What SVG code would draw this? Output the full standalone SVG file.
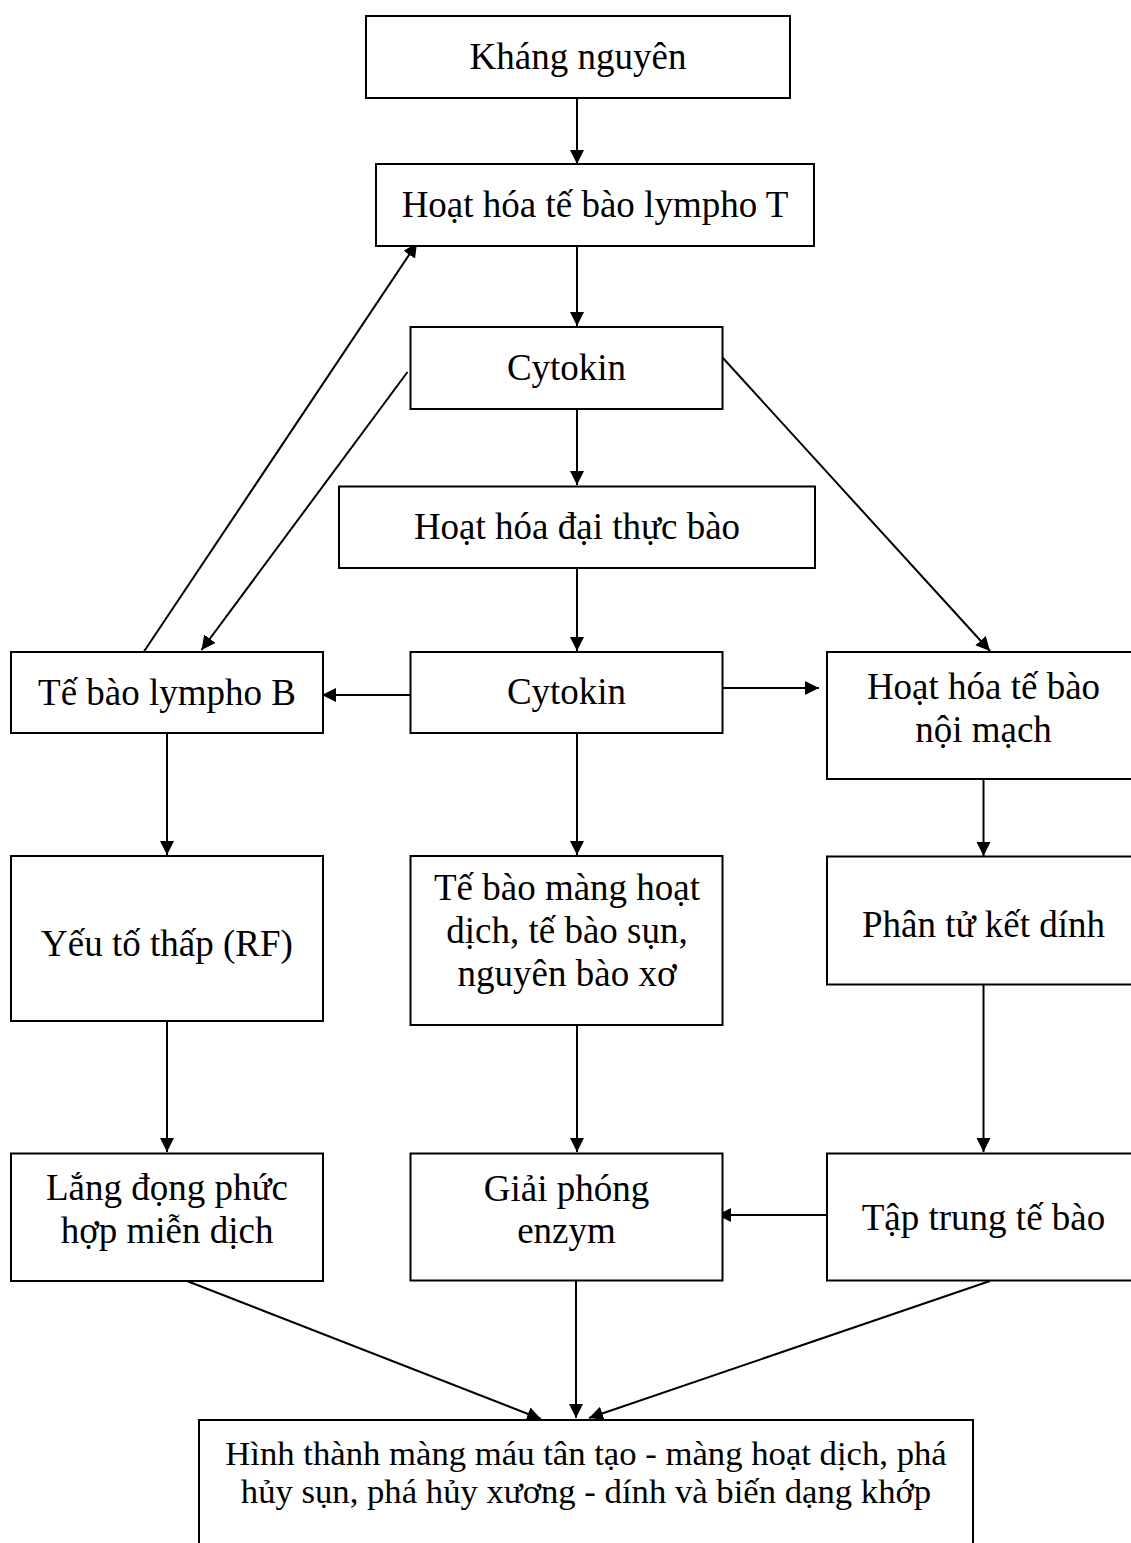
<svg xmlns="http://www.w3.org/2000/svg" width="1131" height="1543" viewBox="0 0 1131 1543">
<style>
.box{fill:#fff;stroke:#000;stroke-width:2}
.t{font-family:"Liberation Serif","Times New Roman",serif;font-size:37px;fill:#000;text-anchor:middle}
.tb{font-family:"Liberation Serif","Times New Roman",serif;font-size:34.7px;fill:#000;text-anchor:middle}
.c{stroke:#000;stroke-width:2;fill:none;marker-end:url(#ah)}
</style>
<defs>
<marker id="ah" markerUnits="userSpaceOnUse" markerWidth="15" markerHeight="15" refX="14" refY="7" orient="auto">
<path d="M0,0 L14,7 L0,14 z" fill="#000"/>
</marker>
</defs>
<rect width="1131" height="1543" fill="#fff"/>
<g id="connectors">
<line class="c" x1="577" y1="98" x2="577" y2="164"/>
<line class="c" x1="577" y1="246" x2="577" y2="326"/>
<line class="c" x1="577" y1="409" x2="577" y2="485"/>
<line class="c" x1="577" y1="568" x2="577" y2="651"/>
<line class="c" x1="410" y1="695" x2="322" y2="695"/>
<line class="c" x1="722" y1="688" x2="819" y2="688"/>
<line class="c" x1="143" y1="653" x2="417" y2="243"/>
<line class="c" x1="407.5" y1="372" x2="201.5" y2="650"/>
<line class="c" x1="722" y1="357" x2="990" y2="651"/>
<line class="c" x1="167" y1="733" x2="167" y2="855"/>
<line class="c" x1="577" y1="733" x2="577" y2="855"/>
<line class="c" x1="983.5" y1="779" x2="983.5" y2="856"/>
<line class="c" x1="167" y1="1021" x2="167" y2="1152"/>
<line class="c" x1="577" y1="1025" x2="577" y2="1152"/>
<line class="c" x1="983.5" y1="984" x2="983.5" y2="1152"/>
<line class="c" x1="829" y1="1215" x2="717" y2="1215"/>
<line class="c" x1="187" y1="1281" x2="541" y2="1419"/>
<line class="c" x1="576" y1="1281" x2="576" y2="1418"/>
<line class="c" x1="990" y1="1281" x2="589" y2="1418"/>
</g>
<g id="khang-nguyen">
<rect class="box" x="366" y="16" width="424" height="82"/>
<text class="t" x="578" y="69">Kháng nguyên</text>
</g>
<g id="hoat-hoa-lympho-t">
<rect class="box" x="376" y="164" width="438" height="82"/>
<text class="t" x="595" y="217">Hoạt hóa tế bào lympho T</text>
</g>
<g id="cytokin-1">
<rect class="box" x="410.5" y="327" width="312" height="82"/>
<text class="t" x="566.5" y="380">Cytokin</text>
</g>
<g id="hoat-hoa-dai-thuc-bao">
<rect class="box" x="339" y="486.5" width="476" height="81.5"/>
<text class="t" x="577" y="539">Hoạt hóa đại thực bào</text>
</g>
<g id="lympho-b">
<rect class="box" x="11" y="652" width="312" height="81"/>
<text class="t" x="167" y="705">Tế bào lympho B</text>
</g>
<g id="cytokin-2">
<rect class="box" x="410.5" y="652" width="312" height="81"/>
<text class="t" x="566.5" y="703.5">Cytokin</text>
</g>
<g id="hoat-hoa-noi-mach">
<rect class="box" x="827" y="652" width="313" height="127"/>
<text class="t" x="983.5" y="698.5">Hoạt hóa tế bào</text>
<text class="t" x="983.5" y="741.5">nội mạch</text>
</g>
<g id="yeu-to-thap">
<rect class="box" x="11" y="856" width="312" height="165"/>
<text class="t" x="167" y="956">Yếu tố thấp (RF)</text>
</g>
<g id="te-bao-mang-hoat-dich">
<rect class="box" x="410.5" y="856" width="312" height="169"/>
<text class="t" x="567" y="900">Tế bào màng hoạt</text>
<text class="t" x="567" y="943">dịch, tế bào sụn,</text>
<text class="t" x="567" y="986">nguyên bào xơ</text>
</g>
<g id="phan-tu-ket-dinh">
<rect class="box" x="827" y="856.5" width="313" height="128"/>
<text class="t" x="983.5" y="936.5">Phân tử kết dính</text>
</g>
<g id="lang-dong">
<rect class="box" x="11" y="1153.5" width="312" height="127.5"/>
<text class="t" x="167" y="1200">Lắng đọng phức</text>
<text class="t" x="167" y="1242.5">hợp miễn dịch</text>
</g>
<g id="giai-phong-enzym">
<rect class="box" x="410.5" y="1153.5" width="312" height="127"/>
<text class="t" x="566.5" y="1200.5">Giải phóng</text>
<text class="t" x="566.5" y="1242.5">enzym</text>
</g>
<g id="tap-trung-te-bao">
<rect class="box" x="827" y="1153.5" width="313" height="127"/>
<text class="t" x="983.5" y="1230">Tập trung tế bào</text>
</g>
<g id="hinh-thanh">
<rect class="box" x="199" y="1420" width="774" height="140"/>
<text class="tb" x="586" y="1465">Hình thành màng máu tân tạo - màng hoạt dịch, phá</text>
<text class="tb" x="586" y="1503">hủy sụn, phá hủy xương - dính và biến dạng khớp</text>
</g>
</svg>
